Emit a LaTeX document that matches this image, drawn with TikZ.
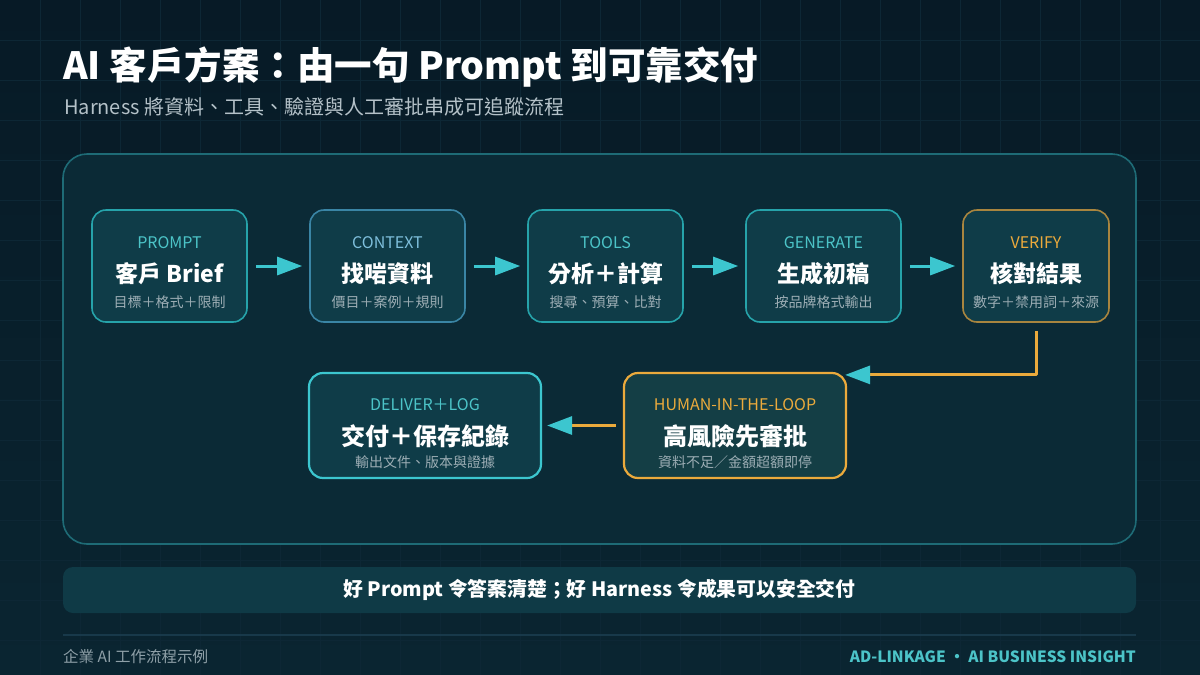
\documentclass[tikz,border=0pt]{standalone}
\usepackage{fontspec}
\setmainfont{Noto Sans CJK TC}
\usepackage{tikz}
\usetikzlibrary{arrows.meta}
\definecolor{wfBackTop}{HTML}{071A26}
\definecolor{wfBackBot}{HTML}{0A2531}
\definecolor{wfGrid}{HTML}{0D2735}
\definecolor{wfPanel}{HTML}{0B2A36}
\definecolor{wfPanelLine}{HTML}{1E6B76}
\definecolor{wfBox}{HTML}{0F3C48}
\definecolor{wfBoxWarm}{HTML}{143E45}
\definecolor{wfTeal}{HTML}{26A3AA}
\definecolor{wfTealText}{HTML}{4CC4C8}
\definecolor{wfBlue}{HTML}{3A85A5}
\definecolor{wfBlueText}{HTML}{7EBFDC}
\definecolor{wfGoldDim}{HTML}{A8853F}
\definecolor{wfGold}{HTML}{EBAA3C}
\definecolor{wfCyan}{HTML}{3CC6CF}
\definecolor{wfMuted}{HTML}{9DAEB5}
\definecolor{wfSubtitle}{HTML}{B4C1C8}
\definecolor{wfBanner}{HTML}{0F3A46}
\definecolor{wfRule}{HTML}{18394A}
\definecolor{wfFoot}{HTML}{8FA0A8}
\tikzset{
  wf diagram/.style={text=white, line join=round},
  wf grid/.style={draw=wfGrid, line width=0.8pt},
  wf panel/.style={draw=wfPanelLine, fill=wfPanel, line width=1.6pt,
    rounded corners=24pt},
  wf box/.style={fill=wfBox, line width=1.6pt, rounded corners=14pt,
    minimum height=112pt, inner sep=0pt},
  wf low box/.style={wf box, line width=2.2pt, minimum height=105pt},
  wf tag/.style={font=\fontsize{16}{18}\selectfont, inner sep=0pt},
  wf main/.style={font=\bfseries\fontsize{23}{26}\selectfont, text=white,
    inner sep=0pt},
  wf sub/.style={font=\fontsize{14}{16}\selectfont, text=wfMuted, inner sep=0pt},
  wf arrow/.style={-{Triangle[length=25pt,width=18pt]}, draw=wfCyan,
    line width=3pt},
  wf check/.style={-{Triangle[length=25pt,width=18pt,color=wfCyan]},
    draw=wfGold, line width=3pt}
}
\begin{document}
\begin{tikzpicture}[wf diagram,x=1pt,y=-1pt]
\useasboundingbox (0,0) rectangle (1200,675);
\shade[top color=wfBackTop,bottom color=wfBackBot] (0,0) rectangle (1200,675);
\foreach \g in {40,80,...,1160}
  \draw[wf grid] (\g,0) -- (\g,675);
\foreach \g in {40,80,...,640}
  \draw[wf grid] (0,\g) -- (1200,\g);

% heading
\node[anchor=west,inner sep=0pt,font=\bfseries\fontsize{37.5}{44}\selectfont] (title)
  at (63,67) {AI 客戶方案：由一句 Prompt 到可靠交付};
\node[anchor=west,inner sep=0pt,text=wfSubtitle,font=\fontsize{20}{24}\selectfont] (subtitle)
  at (64,107) {Harness 將資料、工具、驗證與人工審批串成可追蹤流程};

\draw[wf panel] (63,154) rectangle (1136,544);

% first row
\foreach \id/\cx/\w/\edge/\tagc/\tag/\main/\sub in {
  prompt/169.5/155/wfTeal/wfTealText/PROMPT/客戶 Brief/目標＋格式＋限制,
  context/387.5/155/wfBlue/wfBlueText/CONTEXT/找啱資料/價目＋案例＋規則,
  tools/605.5/155/wfTeal/wfTealText/TOOLS/分析＋計算/搜尋、預算、比對,
  generate/823.5/155/wfTeal/wfTealText/GENERATE/生成初稿/按品牌格式輸出,
  verify/1036/146/wfGoldDim/wfGold/VERIFY/核對結果/數字＋禁用詞＋來源}{
  \node[wf box,draw=\edge,minimum width=\w] (\id) at (\cx,266) {};
  \node[wf tag,text=\tagc] (\id-tag) at ([yshift=23pt]\id.center) {\tag};
  \node[wf main] (\id-main) at ([yshift=-8pt]\id.center) {\main};
  \node[wf sub] (\id-sub) at ([yshift=-36pt]\id.center) {\sub};
}

% second row
\node[wf low box,draw=wfCyan,minimum width=232] (deliver) at (425,425.5) {};
\node[wf tag,text=wfTealText] (deliver-tag) at ([yshift=21pt]deliver.center) {DELIVER＋LOG};
\node[wf main,font=\bfseries\fontsize{24}{27}\selectfont] (deliver-main)
  at ([yshift=-11pt]deliver.center) {交付＋保存紀錄};
\node[wf sub] (deliver-sub) at ([yshift=-37pt]deliver.center) {輸出文件、版本與證據};

\node[wf low box,draw=wfGold,fill=wfBoxWarm,minimum width=222] (hitl) at (735,425.5) {};
\node[wf tag,text=wfGold] (hitl-tag) at ([yshift=21pt]hitl.center) {HUMAN-IN-THE-LOOP};
\node[wf main,font=\bfseries\fontsize{24}{27}\selectfont] (hitl-main)
  at ([yshift=-11pt]hitl.center) {高風險先審批};
\node[wf sub] (hitl-sub) at ([yshift=-37pt]hitl.center) {資料不足／金額超額即停};

% connectors
\foreach \a/\b in {prompt/context,context/tools,tools/generate,generate/verify}
  \draw[wf arrow] ([xshift=8pt]\a.east) -- ([xshift=-7pt]\b.west);
\coordinate (hitl in) at ([xshift=-2pt,yshift=-3pt]hitl.north east);
\draw[wf check] ([yshift=-8pt]verify.south) |- (hitl in);
\draw[wf check] ([xshift=-7pt]hitl.west) -- ([xshift=5pt]deliver.east);

% banner and footer
\node[fill=wfBanner,rounded corners=10pt,minimum width=1073,minimum height=46,
  inner sep=0pt,font=\bfseries\fontsize{19.8}{22}\selectfont] (banner)
  at (599.5,590) {好 Prompt 令答案清楚；好 Harness 令成果可以安全交付};
\draw[draw=wfRule,line width=2pt] (banner.south west |- 0,635) coordinate (rule-l)
  -- (banner.south east |- 0,635) coordinate (rule-r);
\node[anchor=west,inner sep=0pt,text=wfFoot,font=\fontsize{15.5}{18}\selectfont] (foot-left)
  at (63,657) {企業 AI 工作流程示例};
\node[anchor=east,inner sep=0pt,text=wfTealText,font=\bfseries\fontsize{15.5}{18}\selectfont] (foot-right)
  at (1136,657) {AD-LINKAGE ・ AI BUSINESS INSIGHT};
\end{tikzpicture}
\end{document}
